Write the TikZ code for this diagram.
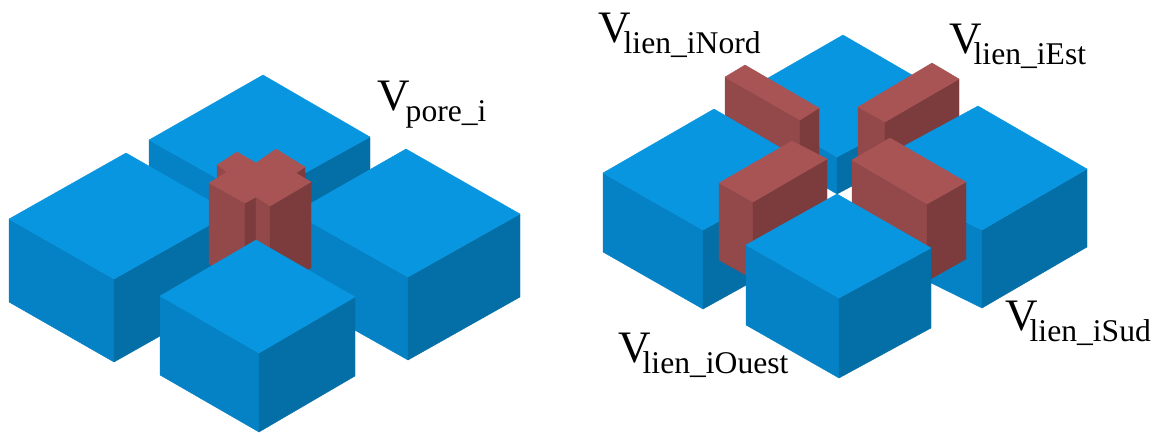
\documentclass[tikz,border=0pt]{standalone}
\usepackage{fontspec}
\setmainfont{Liberation Serif}
\definecolor{btop}{RGB}{9,150,224}
\definecolor{bleft}{RGB}{5,130,197}
\definecolor{bright}{RGB}{4,110,167}
\definecolor{rtop}{RGB}{168,84,85}
\definecolor{rleft}{RGB}{147,72,73}
\definecolor{rright}{RGB}{124,60,61}
\tikzset{
  x=1pt,y=-1pt,
  btopf/.style={fill=btop,draw=btop,line width=.4pt,line join=round},
  bleftf/.style={fill=bleft,draw=bleft,line width=.4pt,line join=round},
  brightf/.style={fill=bright,draw=bright,line width=.4pt,line join=round},
  rtopf/.style={fill=rtop,draw=rtop,line width=.4pt,line join=round},
  rleftf/.style={fill=rleft,draw=rleft,line width=.4pt,line join=round},
  rrightf/.style={fill=rright,draw=rright,line width=.4pt,line join=round},
  lbl/.style={anchor=base west,inner sep=0pt,text=black}
}
% #1 colour prefix, then back, left, front, right corners, #6 height
\newcommand{\solidbox}[6]{%
  \path[#1leftf] (#3) -- (#4) -- ([yshift=-#6pt]#4) -- ([yshift=-#6pt]#3) -- cycle;
  \path[#1rightf] (#4) -- (#5) -- ([yshift=-#6pt]#5) -- ([yshift=-#6pt]#4) -- cycle;
  \path[#1topf] (#2) -- (#3) -- (#4) -- (#5) -- cycle;
}
\newcommand{\vlabel}[4]{\node[lbl] (#1) at (#2) {\fontsize{45}{45}\selectfont V\kern #4pt\raisebox{-11pt}{\fontsize{31.6}{32}\selectfont #3}};}
\begin{document}
\begin{tikzpicture}
\useasboundingbox (0,0) rectangle (1159,432);
\fill[white] (0,0) rectangle (1159,432);
% left figure
\solidbox{b}{263,75}{149,140}{256,200}{370,137}{83}
\solidbox{b}{126,153}{9,219}{114,279}{231,213}{83}
\solidbox{b}{406,149}{294,213}{408,277}{520,214}{83}
% cross
\path[rleftf] (217,165) -- (227,172) -- (217,179) -- cycle;
\path[rrightf] (305,167) -- (296,173) -- (305,179) -- cycle;
\path[rleftf] (209,183) -- (245,203) -- (245,285) -- (209,264) -- cycle;
\path[rrightf] (245,203) -- (256,197) -- (256,278) -- (245,285) -- cycle;
\path[rleftf] (256,197) -- (270,206) -- (270,287) -- (256,278) -- cycle;
\path[rrightf] (270,206) -- (311,182) -- (311,268) -- (270,287) -- cycle;
\path[rtopf] (237,152) -- (256,163) -- (276,149) -- (305,167) -- (296,173) -- (311,182) -- (270,206) -- (256,197) -- (245,203) -- (209,183) -- (227,172) -- (217,165) -- cycle;
\solidbox{b}{256,240}{160,296}{259,353}{355,297}{79}
% right figure
\solidbox{b}{843,35}{735,97}{837,157}{950,97}{37}
\solidbox{r}{745,65}{725,77}{800,120}{819,108}{77}
\solidbox{r}{932,63}{858,107}{885,122}{959,79}{77}
\solidbox{b}{714,109}{603,173}{703,230}{815,168}{79}
\solidbox{b}{978,106}{860,170}{982,230}{1087,169}{78}
\solidbox{r}{792,141}{719,183}{753,202}{827,159}{77}
\solidbox{r}{890,138}{852,160}{927,204}{966,182}{77}
\solidbox{b}{837,194}{746,245}{839,298}{931,248}{80}
% labels
\vlabel{pore}{377,110}{pore\_i}{-4}
\vlabel{nord}{598,42}{lien\_iNord}{-7}
\vlabel{est}{949,53}{lien\_iEst}{-8}
\vlabel{sud}{1005,330}{lien\_iSud}{-8}
\vlabel{ouest}{618,362}{lien\_iOuest}{-8}
\end{tikzpicture}
\end{document}
